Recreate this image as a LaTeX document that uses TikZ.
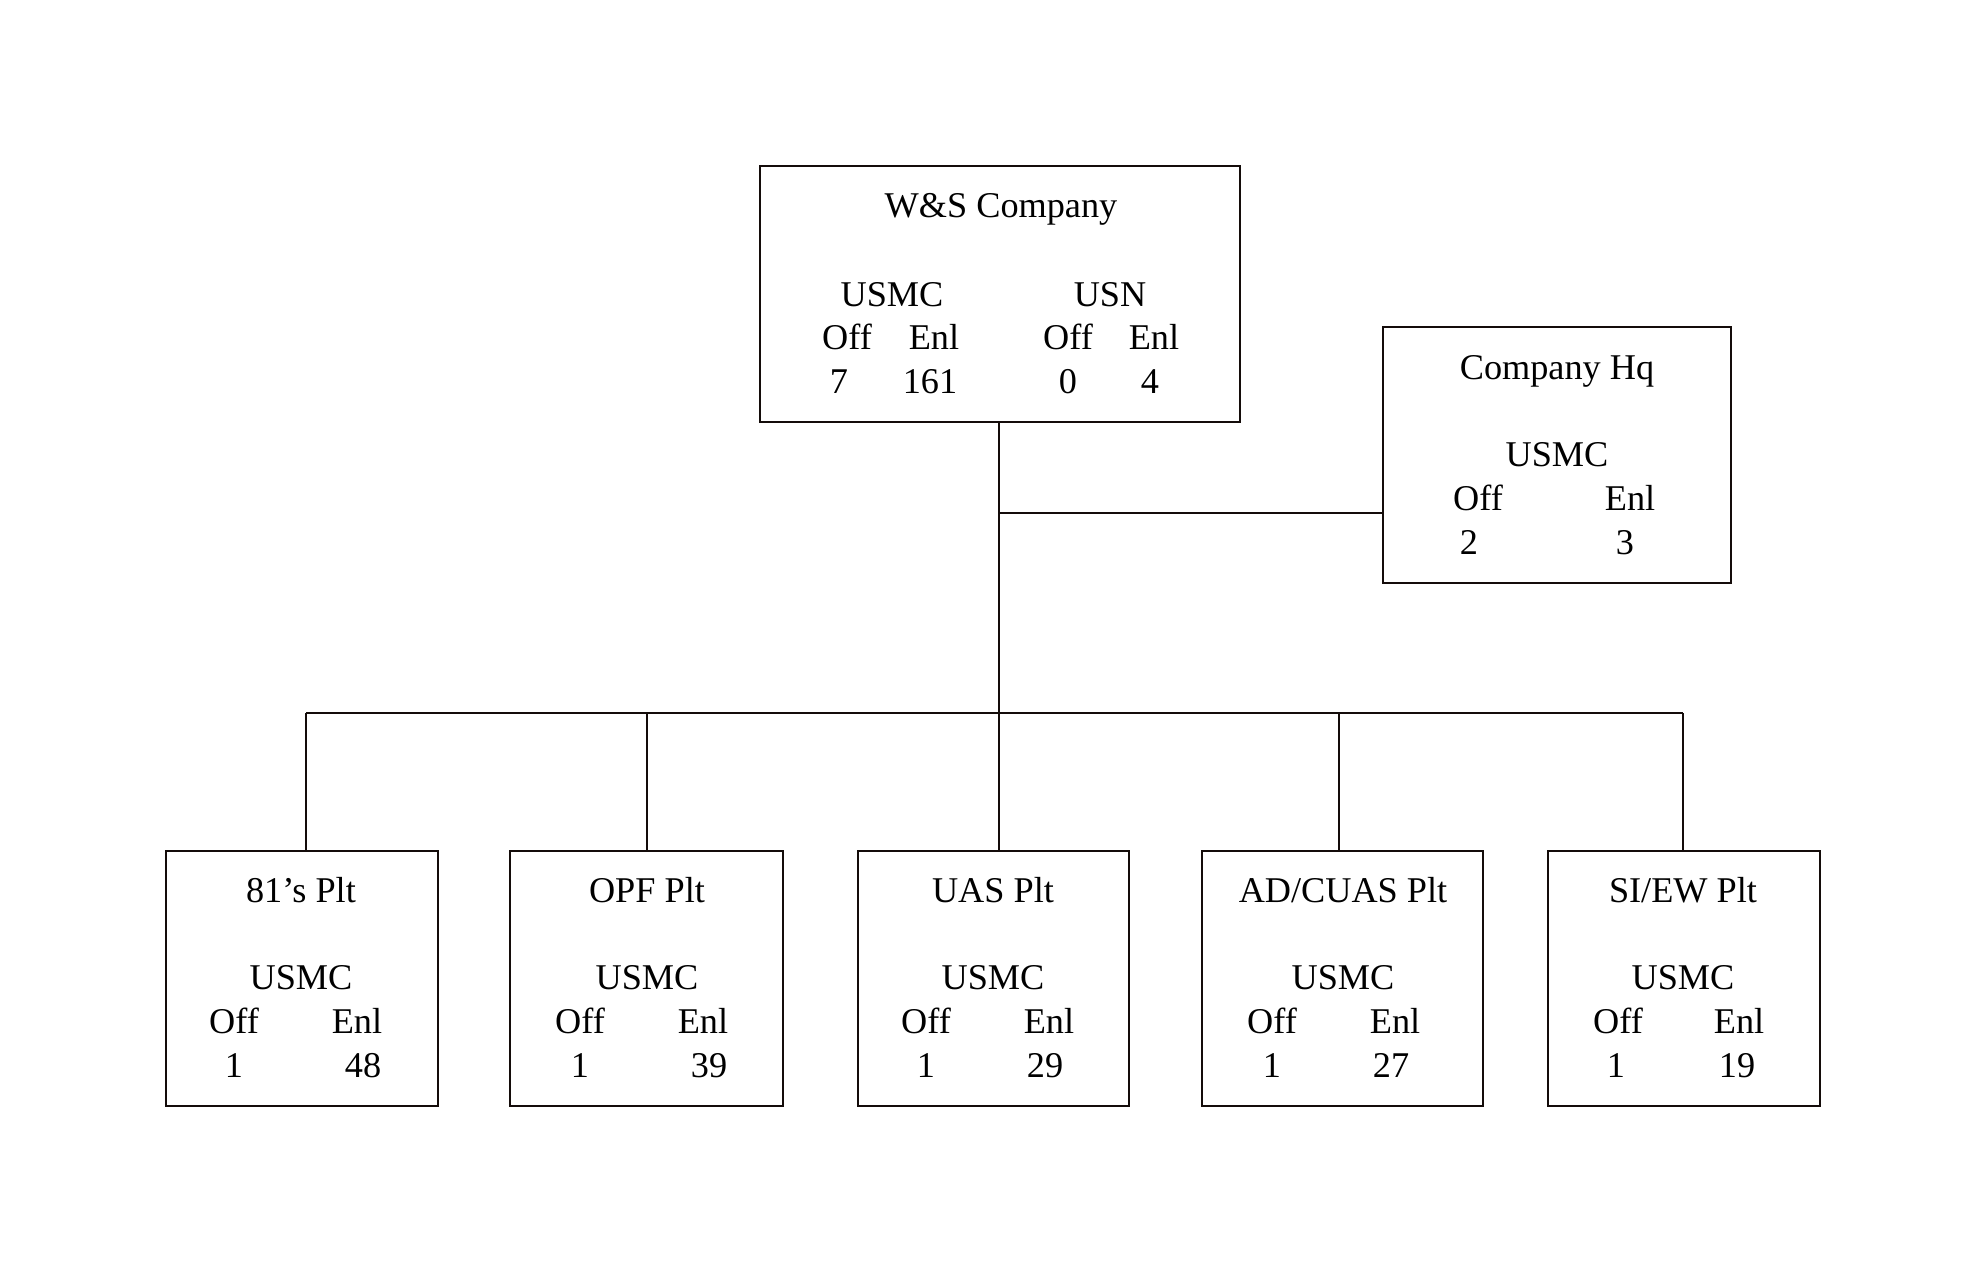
\documentclass[tikz,border=0pt]{standalone}
\usepackage{fontspec}
\setmainfont{Liberation Serif}
\definecolor{boxline}{RGB}{20,12,10}
\begin{document}
\begin{tikzpicture}[x=0.4pt,y=-0.4pt,
  orgbox/.style={draw=boxline,line width=0.9pt,rectangle,inner sep=0pt},
  conn/.style={draw=boxline,line width=0.7pt},
  txt/.style={anchor=base,inner sep=0pt,font=\fontsize{14.5}{17.4}\selectfont}]
\useasboundingbox (0,0) rectangle (1985,1275);
% boxes
\node[orgbox,minimum width=192pt,minimum height=102.4pt] (top) at (1000,294) {};
\node[orgbox,minimum width=139.2pt,minimum height=102.4pt] (hq) at (1557,455) {};
\node[orgbox,minimum width=108.8pt,minimum height=102pt] (b1) at (302,978.5) {};
\node[orgbox,minimum width=109.2pt,minimum height=102pt] (b2) at (646.5,978.5) {};
\node[orgbox,minimum width=108.4pt,minimum height=102pt] (b3) at (993.5,978.5) {};
\node[orgbox,minimum width=112.4pt,minimum height=102pt] (b4) at (1342.5,978.5) {};
\node[orgbox,minimum width=108.8pt,minimum height=102pt] (b5) at (1684,978.5) {};
% connectors
\coordinate (hj) at (999,513);
\coordinate (t1) at (306,713);
\coordinate (t2) at (647,713);
\coordinate (t3) at (999,713);
\coordinate (t4) at (1339,713);
\coordinate (t5) at (1683,713);
\draw[conn] (top.south -| t3) -- (t3);
\draw[conn] (hj) -- (hj -| hq.west);
\draw[conn] (t1) -- (t5);
\draw[conn] (t1) -- (t1 |- b1.north);
\draw[conn] (t2) -- (t2 |- b2.north);
\draw[conn] (t3) -- (t3 |- b3.north);
\draw[conn] (t4) -- (t4 |- b4.north);
\draw[conn] (t5) -- (t5 |- b5.north);
% top box text
\node[txt] (topT) at (1001,217) {W\&S Company};
\node[txt] (topU1) at (892,306) {USMC};
\node[txt] (topU2) at (1110,306) {USN};
\node[txt] (topO1) at (847,349) {Off};
\node[txt] (topE1) at (934,349) {Enl};
\node[txt] (topO2) at (1068,349) {Off};
\node[txt] (topE2) at (1154,349) {Enl};
\node[txt] (topN1) at (839,393) {7};
\node[txt] (topN2) at (930,393) {161};
\node[txt] (topN3) at (1068,393) {0};
\node[txt] (topN4) at (1150,393) {4};
% hq text
\node[txt] (hqT) at (1557,379) {Company Hq};
\node[txt] (hqU) at (1557,466) {USMC};
\node[txt] (hqO) at (1478,510) {Off};
\node[txt] (hqE) at (1630,510) {Enl};
\node[txt] (hqN1) at (1469,554) {2};
\node[txt] (hqN2) at (1625,554) {3};
% bottom boxes text
\node[txt] (b1T) at (301,902) {81’s Plt};
\node[txt] (b1U) at (301,989) {USMC};
\node[txt] (b1O) at (234,1033) {Off};
\node[txt] (b1E) at (357,1033) {Enl};
\node[txt] (b1N1) at (234,1077) {1};
\node[txt] (b1N2) at (363,1077) {48};
\node[txt] (b2T) at (647,902) {OPF Plt};
\node[txt] (b2U) at (647,989) {USMC};
\node[txt] (b2O) at (580,1033) {Off};
\node[txt] (b2E) at (703,1033) {Enl};
\node[txt] (b2N1) at (580,1077) {1};
\node[txt] (b2N2) at (709,1077) {39};
\node[txt] (b3T) at (993,902) {UAS Plt};
\node[txt] (b3U) at (993,989) {USMC};
\node[txt] (b3O) at (926,1033) {Off};
\node[txt] (b3E) at (1049,1033) {Enl};
\node[txt] (b3N1) at (926,1077) {1};
\node[txt] (b3N2) at (1045,1077) {29};
\node[txt] (b4T) at (1343,902) {AD/CUAS Plt};
\node[txt] (b4U) at (1343,989) {USMC};
\node[txt] (b4O) at (1272,1033) {Off};
\node[txt] (b4E) at (1395,1033) {Enl};
\node[txt] (b4N1) at (1272,1077) {1};
\node[txt] (b4N2) at (1391,1077) {27};
\node[txt] (b5T) at (1683,902) {SI/EW Plt};
\node[txt] (b5U) at (1683,989) {USMC};
\node[txt] (b5O) at (1618,1033) {Off};
\node[txt] (b5E) at (1739,1033) {Enl};
\node[txt] (b5N1) at (1616,1077) {1};
\node[txt] (b5N2) at (1737,1077) {19};
\end{tikzpicture}
\end{document}
